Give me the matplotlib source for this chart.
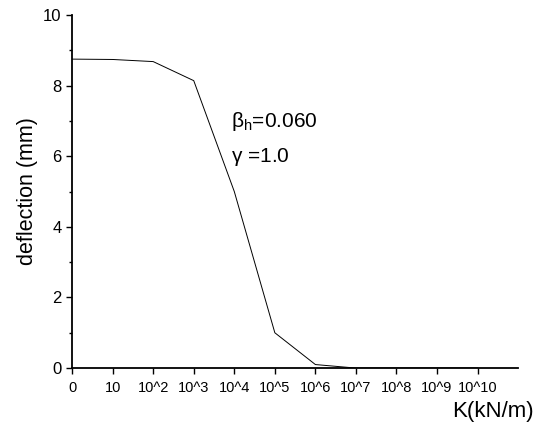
import matplotlib.pyplot as plt
from matplotlib.ticker import MultipleLocator

plt.rcParams['font.family'] = ['Liberation Sans', 'DejaVu Sans']

# stiffness steps (plotted at equal spacing) and deflection values
k_labels = ['0', '10', '10^2', '10^3', '10^4', '10^5', '10^6', '10^7',
            '10^8', '10^9', '10^10']
deflection = [8.75, 8.74, 8.68, 8.14, 5.0, 1.0, 0.1, 0.0, 0.0, 0.0, 0.0]
positions = list(range(len(k_labels)))

fig = plt.figure(figsize=(5.42, 4.28), dpi=100)
ax = fig.add_axes([0.133, 0.140, 0.823, 0.825])

ax.plot(positions, deflection, color='black', linewidth=0.7)

ax.set_xlim(0, 11)
ax.set_ylim(0, 10)
ax.set_xticks(positions)
ax.set_xticklabels(k_labels, fontsize=10.5)
ax.yaxis.set_major_locator(MultipleLocator(2))
ax.yaxis.set_minor_locator(MultipleLocator(1))
ax.tick_params(axis='y', labelsize=12, length=4, width=1)
ax.tick_params(axis='y', which='minor', length=2.5, width=1)
ax.tick_params(axis='x', length=4, width=1, pad=5)

for side in ('top', 'right'):
    ax.spines[side].set_visible(False)
for side in ('left', 'bottom'):
    ax.spines[side].set_linewidth(1.3)

ax.set_ylabel('deflection (mm)', fontsize=15.5, labelpad=4)
fig.text(0.985, 0.015, 'K(kN/m)', fontsize=16, ha='right', va='bottom')

ax.text(3.93, 6.97, r'$\mathregular{\beta_h}$=0.060', fontsize=15, va='center')
ax.text(3.93, 5.98, r'$\mathregular{\gamma}$ =1.0', fontsize=15, va='center')

fig.savefig('out.png', dpi=100, facecolor='white')
